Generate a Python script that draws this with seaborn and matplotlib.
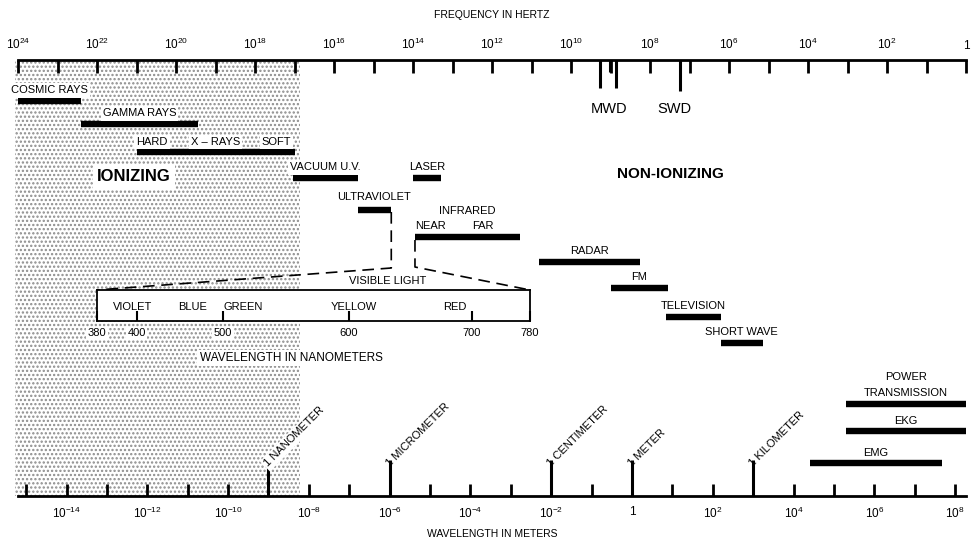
import numpy as np
import matplotlib
matplotlib.use("Agg")
import matplotlib.pyplot as plt
import seaborn as sns
from matplotlib.ticker import FixedLocator, NullLocator

# bands on the frequency scale, log10(Hz)
band_names = ["COSMIC RAYS", "GAMMA RAYS", "X \u2013 RAYS", "VACUUM U.V.", "LASER",
              "ULTRAVIOLET", "INFRARED", "RADAR", "FM", "TELEVISION", "SHORT WAVE",
              "POWER\nTRANSMISSION", "EKG", "EMG"]
band_hi = [24.0, 22.4, 21.0, 17.05, 14.0, 15.4, 13.95, 10.8, 9.0, 7.6, 6.2, 3.05, 3.05, 3.95]
band_lo = [22.4, 19.45, 17.0, 15.4, 13.3, 14.55, 11.3, 8.25, 7.55, 6.2, 5.15, 0.0, 0.0, 0.6]

ionizing_edge = 16.85
mwd_lines = [9.27, 9.01, 8.86]
swd_line = 7.24

freq_ticks = list(range(0, 25))
wave_ticks = list(range(-15, 9))
unit_names = ["1 NANOMETER", "1 MICROMETER", "1 CENTIMETER", "1 METER", "1 KILOMETER"]
unit_exps = [-9, -6, -2, 0, 3]

# visible light (nm)
color_names = ["VIOLET", "BLUE", "GREEN", "YELLOW", "RED"]
color_nm = [398, 465, 516, 604, 686]
nm_ticks = [380, 400, 500, 600, 700, 780]

# the drawing's wavelength scale (log10 m) against log10 Hz
WAVE_OFFSET = 8.27
WAVE_SLOPE = 0.978


def freq_to_wave(f):
    return WAVE_OFFSET - WAVE_SLOPE * np.asarray(f, dtype=float)


def wave_to_freq(w):
    return (WAVE_OFFSET - np.asarray(w, dtype=float)) / WAVE_SLOPE


sns.set_theme(style="white")
plt.rcParams["font.family"] = ["Liberation Sans", "DejaVu Sans"]
plt.rcParams["mathtext.default"] = "regular"
plt.rcParams["hatch.linewidth"] = 1.1
plt.rcParams["text.color"] = "black"
plt.rcParams["axes.labelcolor"] = "black"
plt.rcParams["xtick.color"] = "black"
plt.rcParams["xtick.labelcolor"] = "black"

W, H = 972, 546
X0, X1, Y0, Y1 = 18, 966, 60, 496
fig = plt.figure(figsize=(9.72, 5.46), dpi=100, facecolor="white")
ax = fig.add_axes([X0 / W, 1 - Y1 / H, (X1 - X0) / W, (Y1 - Y0) / H])
ax.set_xlim(24, 0)
ax.set_ylim(Y1, Y0)
ax.set_yticks([])
for s in ["left", "right", "bottom"]:
    ax.spines[s].set_visible(False)
ax.spines["top"].set_linewidth(2)
ax.spines["top"].set_color("black")

# ionizing region
ax.axvspan(ionizing_edge, 24.08, facecolor="white", edgecolor="#8c8c8c", hatch="....",
           lw=0, zorder=0, clip_on=False)

# top axis: frequency
ax.xaxis.set_ticks_position("top")
ax.set_xticks(freq_ticks, labels=["" if e % 2 else ("1" if e == 0 else f"$10^{{{e}}}$")
                                  for e in freq_ticks])
ax.tick_params(axis="x", which="major", top=True, bottom=False, labeltop=True,
               labelbottom=False, direction="in", length=9, width=2, pad=6,
               labelsize=8.5, color="black")
ax.xaxis.set_label_position("top")
ax.set_xlabel("FREQUENCY IN HERTZ", fontsize=7.5, labelpad=13)

# bottom axis: wavelength
ax2 = ax.secondary_xaxis("bottom", functions=(freq_to_wave, wave_to_freq))
ax2.set_xticks(wave_ticks, labels=["" if e % 2 else ("1" if e == 0 else f"$10^{{{e}}}$")
                                   for e in wave_ticks])
ax2.xaxis.set_minor_locator(FixedLocator(unit_exps))
ax2.xaxis.remove_overlapping_locs = False
ax2.tick_params(axis="x", which="major", direction="in", length=9, width=2, pad=7,
                labelsize=8.5, color="black")
ax2.tick_params(axis="x", which="minor", direction="in", length=26, width=2.2, color="black")
ax2.spines["bottom"].set_linewidth(2)
ax2.spines["bottom"].set_color("black")
ax2.set_xlabel("WAVELENGTH IN METERS", fontsize=7.5, labelpad=6)

for name, e in zip(unit_names, unit_exps):
    ax.text(wave_to_freq(e), 467, name, rotation=45, rotation_mode="anchor",
            ha="left", va="baseline", fontsize=8, zorder=4,
            bbox=dict(fc="white", ec="none", pad=1.5) if e == -9 else None)

# bands
rows = [101, 124, 152, 178, 178, 210, 237, 262, 288, 317, 343, 404, 431, 463]
ax.hlines(rows, band_lo, band_hi, colors="black", lw=4.6, zorder=3)
white = dict(fc="white", ec="none", pad=1.5)
for i, (name, lo, hi, y) in enumerate(zip(band_names, band_lo, band_hi, rows)):
    mid = (lo + hi) / 2
    box = white if hi > ionizing_edge else None
    if name.startswith("X"):
        ax.text(hi, y - 7, "HARD", ha="left", va="baseline", fontsize=8, bbox=box, zorder=4)
        ax.text(mid, y - 7, name, ha="center", va="baseline", fontsize=8, bbox=box, zorder=4)
        ax.text(lo + 0.08, y - 7, "SOFT", ha="right", va="baseline", fontsize=8, bbox=box, zorder=4)
    elif name == "INFRARED":
        ax.text(mid, y - 23, name, ha="center", va="baseline", fontsize=8, zorder=4)
        ax.text(hi, y - 8, "NEAR", ha="left", va="baseline", fontsize=8, zorder=4)
        ax.text(lo + 0.67, y - 8, "FAR", ha="right", va="baseline", fontsize=8, zorder=4)
    else:
        off = 10 if name == "ULTRAVIOLET" else 7.5
        ax.text(mid, y - off, name, ha="center", va="baseline", fontsize=8,
                linespacing=1.75, bbox=box, zorder=4)

ax.text(21.06, 177, "IONIZING", ha="center", va="center", fontsize=12, weight="bold",
        bbox=dict(fc="white", ec="none", pad=3), zorder=4)
ax.text(7.47, 174, "NON-IONIZING", ha="center", va="center", fontsize=11, weight="bold", zorder=4)

# diathermy marks
ax.vlines(mwd_lines, Y0, [Y0 + 28, Y0 + 12, Y0 + 28], colors="black", lw=2.2, zorder=3)
ax.vlines([swd_line], Y0, Y0 + 31, colors="black", lw=2.2, zorder=3)
ax.text(np.mean(mwd_lines), 113, "MWD", ha="center", va="baseline", fontsize=10.5)
ax.text(swd_line + 0.15, 113, "SWD", ha="center", va="baseline", fontsize=10.5)

# visible light box
bx0, bx1, by0, by1 = 97, 530, 290, 321
ax_vis = fig.add_axes([bx0 / W, 1 - by1 / H, (bx1 - bx0) / W, (by1 - by0) / H])
vis_frac = [0, 0.092, 0.291, 0.582, 0.866, 1.0]
ax_vis.set_xscale("function", functions=(lambda v: np.interp(v, nm_ticks, vis_frac),
                                        lambda v: np.interp(v, vis_frac, nm_ticks)))
ax_vis.set_xlim(380, 780)
ax_vis.set_ylim(0, 1)
ax_vis.set_facecolor("white")
ax_vis.set_yticks([])
ax_vis.set_xticks(nm_ticks, labels=[str(v) for v in nm_ticks])
ax_vis.xaxis.set_minor_locator(NullLocator())
ax_vis.tick_params(axis="x", direction="in", length=7, width=1.5, pad=5, labelsize=8,
                   color="black", bottom=True)
for lab in ax_vis.get_xticklabels():
    lab.set_bbox(dict(fc="white", ec="none", pad=1))
for s in ax_vis.spines.values():
    s.set_color("black")
    s.set_linewidth(1.3)
for name, nm in zip(color_names, color_nm):
    ax_vis.text(nm, 0.45, name, ha="center", va="center", fontsize=8)
ax_vis.text(0.448, -1.2, "WAVELENGTH IN NANOMETERS", transform=ax_vis.transAxes,
            ha="center", va="center", fontsize=8.5, bbox=dict(fc="white", ec="none", pad=1.5))

# dashed connectors from the UV / IR bars to the box
to_data = ax.transData.inverted()
tl = to_data.transform(ax_vis.transAxes.transform((0, 1)))
tr = to_data.transform(ax_vis.transAxes.transform((1, 1)))
uv_end, ir_start = band_lo[5], band_hi[6]
ax.plot([uv_end, uv_end, tl[0]], [rows[5] + 2, 268, tl[1]], color="black", lw=1.2,
        ls=(0, (7, 4)), zorder=2, clip_on=False)
ax.plot([ir_start, ir_start, tr[0]], [rows[6] + 3, 267, tr[1]], color="black", lw=1.2,
        ls=(0, (7, 4)), zorder=2, clip_on=False)
ax.text(uv_end + 0.1, 281, "VISIBLE LIGHT", ha="center", va="center", fontsize=8, zorder=4)

fig.savefig("out.png", dpi=100, facecolor="white")
